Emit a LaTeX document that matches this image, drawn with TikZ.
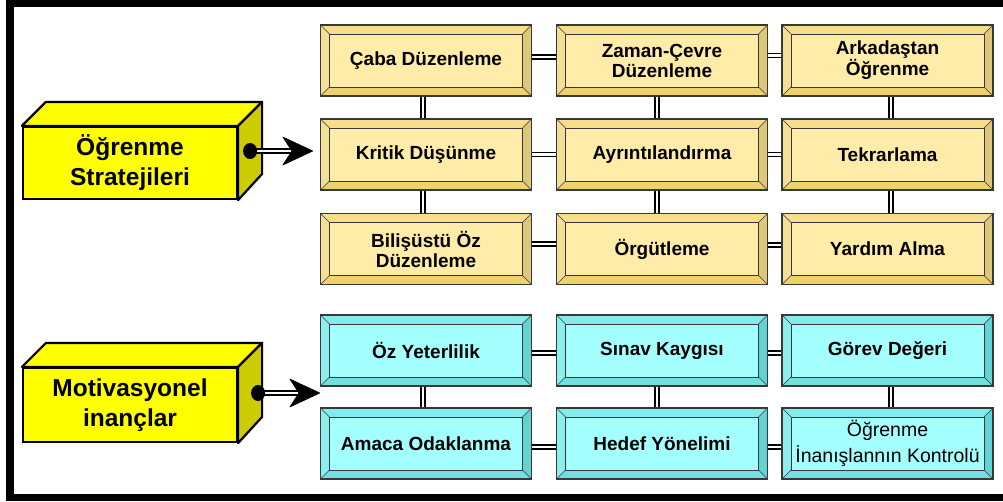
\documentclass[tikz,border=0pt]{standalone}
\usepackage{fontspec}
\setmainfont{Liberation Sans}
\definecolor{edgecol}{HTML}{383838}
% pale yellow bevelled boxes
\definecolor{yface}{HTML}{FFECA8}
\definecolor{ytop}{HTML}{F7DD8C}
\definecolor{yleft}{HTML}{F5DE96}
\definecolor{yright}{HTML}{DEC67A}
\definecolor{ybot}{HTML}{EED36C}
% pale cyan bevelled boxes
\definecolor{cface}{HTML}{A4FFFF}
\definecolor{ctop}{HTML}{84EAEA}
\definecolor{cleft}{HTML}{8CEEEE}
\definecolor{cright}{HTML}{62D2D2}
\definecolor{cbot}{HTML}{72E0E0}
% solid blocks on the left
\definecolor{blkfront}{HTML}{FFFF00}
\definecolor{blkside}{HTML}{CCCC00}
\newcommand\bxfont{\fontsize{19}{20}\selectfont\bfseries}
\newcommand\bxregfont{\fontsize{19.5}{26}\selectfont}
\newcommand\blkfont{\fontsize{24.5}{30}\selectfont\bfseries}
\tikzset{
  bevel/.style n args={5}{rectangle, draw=edgecol, line width=1.3pt, fill=#1,
    minimum width=211pt, minimum height=71pt, inner sep=0pt, align=center,
    text=black, font=\bxfont,
    path picture={
      \path (path picture bounding box.north west) coordinate (NW)
            (path picture bounding box.north east) coordinate (NE)
            (path picture bounding box.south east) coordinate (SE)
            (path picture bounding box.south west) coordinate (SW);
      \path ([shift={(9pt,-9pt)}]NW) coordinate (nw)
            ([shift={(-9pt,-9pt)}]NE) coordinate (ne)
            ([shift={(-9pt,9pt)}]SE) coordinate (se)
            ([shift={(9pt,9pt)}]SW) coordinate (sw);
      \fill[#2] (NW) -- (NE) -- (ne) -- (nw) -- cycle;
      \fill[#3] (NW) -- (nw) -- (sw) -- (SW) -- cycle;
      \fill[#4] (NE) -- (SE) -- (se) -- (ne) -- cycle;
      \fill[#5] (SW) -- (sw) -- (se) -- (SE) -- cycle;
      \draw[edgecol, line width=1pt] (nw) rectangle (se);
      \draw[edgecol, line width=0.5pt] (NW) -- (nw) (NE) -- (ne) (SE) -- (se) (SW) -- (sw);
    }},
  ybox/.style={bevel={yface}{ytop}{yleft}{yright}{ybot}},
  cbox/.style={bevel={cface}{ctop}{cleft}{cright}{cbot}},
  dbl/.style={draw=black, line width=1.5pt, double=white, double distance=2.3pt},
  blkfront/.style={rectangle, draw=black, line width=2.2pt, fill=blkfront,
    minimum width=214pt, inner sep=0pt, align=center, font=\blkfont, text=black},
  blkface/.style={draw=black, line width=2.2pt, line join=round},
  head/.style={fill=black, draw=black, line width=0.6pt, line join=round}
}
\begin{document}
\begin{tikzpicture}[x=1pt, y=-1pt]
\useasboundingbox (0,0) rectangle (1003,501);
\fill[white] (0,0) rectangle (1003,501);
% heavy outer frame, its right side runs past the page edge
\begin{scope}
  \clip (0,0) rectangle (1003,501);
  \draw[line width=7.5pt] (10,3.5) rectangle (1020,497.5);
\end{scope}

% learning strategies grid
\node[ybox] (caba)   at (426,60.5)   {Çaba Düzenleme};
\node[ybox] (zaman)  at (662,60.5)   {Zaman-Çevre\\Düzenleme};
\node[ybox] (arka)   at (887.5,60.5) {Arkadaştan\\Öğrenme};
\node[ybox] (kritik) at (426,154.5)  {Kritik Düşünme};
\node[ybox] (ayrin)  at (662,154.5)  {Ayrıntılandırma};
\node[ybox] (tekrar) at (887.5,154.5){Tekrarlama};
\node[ybox] (bilis)  at (426,249)    {Bilişüstü Öz\\Düzenleme};
\node[ybox] (orgut)  at (662,249)    {Örgütleme};
\node[ybox] (yardim) at (887.5,249)  {Yardım Alma};

% motivational beliefs grid
\node[cbox] (ozyet)  at (426,350.5)  {Öz Yeterlilik};
\node[cbox] (sinav)  at (662,350.5)  {Sınav Kaygısı};
\node[cbox] (gorev)  at (887.5,350.5){Görev Değeri};
\node[cbox] (amaca)  at (426,443.5)  {Amaca Odaklanma};
\node[cbox] (hedef)  at (662,443.5)  {Hedef Yönelimi};
\node[cbox, font=\bxregfont] (kontrol) at (887.5,443.5) {Öğrenme\\İnanışlannın Kontrolü};

% horizontal links
\draw[dbl] ([yshift=3.5pt]caba.east) -- ([yshift=3.5pt]zaman.west);
\draw[dbl] ([yshift=5pt]zaman.east) -- ([yshift=5pt]arka.west);
\draw[dbl] (kritik) -- (ayrin);
\draw[dbl] (ayrin) -- (tekrar);
\draw[dbl] ([yshift=5pt]bilis.east) -- ([yshift=5pt]orgut.west);
\draw[dbl] ([yshift=4pt]orgut.east) -- ([yshift=4pt]yardim.west);
\draw[dbl] ([yshift=-2.5pt]ozyet.east) -- ([yshift=-2.5pt]sinav.west);
\draw[dbl] ([yshift=-2.5pt]sinav.east) -- ([yshift=-2.5pt]gorev.west);
\draw[dbl] ([yshift=-3.5pt]amaca.east) -- ([yshift=-3.5pt]hedef.west);
\draw[dbl] ([yshift=-3.5pt]hedef.east) -- ([yshift=-3.5pt]kontrol.west);

% vertical links
\draw[dbl] ([xshift=-3pt]caba.south) -- ([xshift=-3pt]kritik.north);
\draw[dbl] ([xshift=-5pt]zaman.south) -- ([xshift=-5pt]ayrin.north);
\draw[dbl] ([xshift=3.5pt]arka.south) -- ([xshift=3.5pt]tekrar.north);
\draw[dbl] ([xshift=-3pt]kritik.south) -- ([xshift=-3pt]bilis.north);
\draw[dbl] ([xshift=-5pt]ayrin.south) -- ([xshift=-5pt]orgut.north);
\draw[dbl] ([xshift=3.5pt]tekrar.south) -- ([xshift=3.5pt]yardim.north);
\draw[dbl] ([xshift=-3pt]ozyet.south) -- ([xshift=-3pt]amaca.north);
\draw[dbl] ([xshift=-5pt]sinav.south) -- ([xshift=-5pt]hedef.north);
\draw[dbl] ([xshift=3.5pt]gorev.south) -- ([xshift=3.5pt]kontrol.north);

% solid block: learning strategies
\node[blkfront, minimum height=72pt] (strat) at (130,163) {Öğrenme\\Stratejileri};
\draw[blkface, fill=blkfront] (strat.north west) -- ++(24,-24)
  -- ([shift={(24pt,24pt)}]strat.north east) -- (strat.north east) -- cycle;
\draw[blkface, fill=blkside] (strat.north east) -- ++(24,-24) -- ++(0,72)
  -- (strat.south east) -- cycle;
\coordinate (dot1) at ([shift={(12pt,12pt)}]strat.east);
\coordinate (tip1) at ([xshift=-7pt]dot1 -| kritik.west);
\draw[dbl] (dot1) -- ([xshift=-20pt]tip1);
\fill (dot1) ellipse (7pt and 8pt);
\draw[head] (tip1) -- ++(-30,-14) -- ++(9,14) -- ++(-9,14) -- cycle;

% solid block: motivational beliefs
\node[blkfront, minimum height=74pt] (motiv) at (130,405) {Motivasyonel\\inançlar};
\draw[blkface, fill=blkfront] (motiv.north west) -- ++(24,-24)
  -- ([shift={(24pt,24pt)}]motiv.north east) -- (motiv.north east) -- cycle;
\draw[blkface, fill=blkside] (motiv.north east) -- ++(24,-24) -- ++(0,74)
  -- (motiv.south east) -- cycle;
\coordinate (dot2) at ([shift={(20pt,12pt)}]motiv.east);
\coordinate (tip2) at (dot2 -| ozyet.west);
\draw[dbl] (dot2) -- ([xshift=-20pt]tip2);
\fill (dot2) ellipse (7pt and 8pt);
\draw[head] (tip2) -- ++(-30,-14) -- ++(9,14) -- ++(-9,14) -- cycle;
\end{tikzpicture}
\end{document}
